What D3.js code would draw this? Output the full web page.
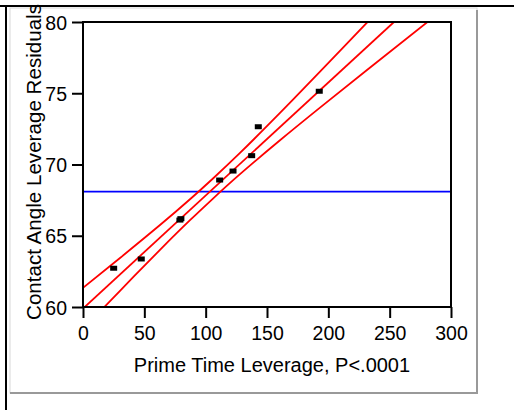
<!DOCTYPE html>
<html>
<head>
<meta charset="utf-8">
<script src="https://cdn.jsdelivr.net/npm/d3@7"></script>
<style>
  html, body { margin: 0; padding: 0; background: #fff; }
  svg { display: block; }
  text { font-family: "Liberation Sans", Arial, Helvetica, sans-serif; fill: #000; }
</style>
</head>
<body>
<svg id="chart" width="514" height="410"></svg>
<script>
// ---- data ----
const xTicks = [0, 50, 100, 150, 200, 250, 300];
const yTicks = [60, 65, 70, 75, 80];
const xLabel = "Prime Time Leverage, P<.0001";
const yLabel = "Contact Angle Leverage Residuals";

// leverage points
const pointX = [25.0, 47.5, 79.0, 79.8, 111.4, 122.3, 137.5, 142.9, 192.6];
const pointY = [62.72, 63.37, 66.1, 66.2, 68.91, 69.54, 70.62, 72.65, 75.14];

// horizontal reference (mean) line
const meanY = 68.1;

// fitted line (two ends)
const fitX = [0, 253.5];
const fitY = [59.89, 80];

// confidence curves
const upperX = [0, 30.16, 62.77, 87.23, 105.98, 127.99, 160.60, 193.21, 231.52, 258.4];
const upperY = [61.34, 63.44, 65.75, 67.56, 69.02, 70.81, 73.62, 76.51, 79.96, 82.39];
const lowerX = [0, 30.16, 62.77, 87.23, 105.98, 127.99, 160.60, 193.21, 231.52, 282.88];
const lowerY = [58.44, 61.14, 64.01, 66.09, 67.61, 69.32, 71.70, 73.99, 76.63, 80.14];

// ---- drawing ----
const svg = d3.select("#chart");
const m = { left: 83, right: 451, top: 22, bottom: 307 };

const x = d3.scaleLinear().domain([0, 300]).range([m.left, m.right]);
const y = d3.scaleLinear().domain([60, 80]).range([m.bottom, m.top]);

// page frame
svg.append("rect").attr("x", 10).attr("y", 8).attr("width", 467).attr("height", 385)
  .attr("fill", "none").attr("stroke", "#d8d8d8").attr("stroke-width", 1);
svg.append("line").attr("x1", 477).attr("x2", 477).attr("y1", 10).attr("y2", 394)
  .attr("stroke", "#999").attr("stroke-width", 2);
svg.append("line").attr("x1", 10).attr("x2", 478).attr("y1", 393).attr("y2", 393)
  .attr("stroke", "#999").attr("stroke-width", 2);
svg.append("line").attr("x1", 0).attr("x2", 514).attr("y1", 6).attr("y2", 6)
  .attr("stroke", "#000").attr("stroke-width", 2);
svg.append("line").attr("x1", 6).attr("x2", 6).attr("y1", 6).attr("y2", 410)
  .attr("stroke", "#000").attr("stroke-width", 2);

// clip to plot area
svg.append("defs").append("clipPath").attr("id", "plotClip")
  .append("rect").attr("x", m.left).attr("y", m.top)
  .attr("width", m.right - m.left).attr("height", m.bottom - m.top);

const plot = svg.append("g").attr("clip-path", "url(#plotClip)");

// mean line
plot.append("line")
  .attr("x1", x(0)).attr("x2", x(300))
  .attr("y1", y(meanY)).attr("y2", y(meanY))
  .attr("stroke", "#0000ff").attr("stroke-width", 1.6);

const line = d3.line().x(d => x(d[0])).y(d => y(d[1])).curve(d3.curveNatural);
const red = "#ff0000";

plot.append("path").datum(fitX.map((v, i) => [v, fitY[i]]))
  .attr("d", d3.line().x(d => x(d[0])).y(d => y(d[1])))
  .attr("fill", "none").attr("stroke", red).attr("stroke-width", 1.8);
plot.append("path").datum(upperX.map((v, i) => [v, upperY[i]]))
  .attr("d", line).attr("fill", "none").attr("stroke", red).attr("stroke-width", 1.8);
plot.append("path").datum(lowerX.map((v, i) => [v, lowerY[i]]))
  .attr("d", line).attr("fill", "none").attr("stroke", red).attr("stroke-width", 1.8);

// points
plot.selectAll("rect.pt").data(pointX.map((v, i) => [v, pointY[i]]))
  .enter().append("rect").attr("class", "pt")
  .attr("x", d => x(d[0]) - 3.5).attr("y", d => y(d[1]) - 2.5)
  .attr("width", 7).attr("height", 5).attr("fill", "#000");

// axes
const yAxis = svg.append("g").attr("transform", `translate(${m.left},0)`)
  .call(d3.axisLeft(y).tickValues(yTicks).tickSize(11).tickPadding(5));
yAxis.select(".domain").remove();
yAxis.selectAll("line").attr("stroke", "#000").attr("stroke-width", 2);
yAxis.selectAll("text").attr("font-size", 19.5).attr("dy", "0.37em")
  .style("font-family", "'Liberation Sans', Arial, sans-serif");

const xAxis = svg.append("g").attr("transform", `translate(0,${m.bottom})`)
  .call(d3.axisBottom(x).tickValues(xTicks).tickSize(11).tickPadding(8));
xAxis.select(".domain").remove();
xAxis.selectAll("line").attr("stroke", "#000").attr("stroke-width", 2);
xAxis.selectAll("text").attr("font-size", 19.5)
  .style("font-family", "'Liberation Sans', Arial, sans-serif");

// plot frame
svg.append("rect").attr("x", m.left).attr("y", m.top)
  .attr("width", m.right - m.left).attr("height", m.bottom - m.top)
  .attr("fill", "none").attr("stroke", "#000").attr("stroke-width", 2);

// axis titles
svg.append("text").attr("x", 272).attr("y", 372).attr("text-anchor", "middle")
  .attr("font-size", 20).text(xLabel);
svg.append("text").attr("transform", "translate(41,162) rotate(-90)")
  .attr("text-anchor", "middle").attr("font-size", 20.6).text(yLabel);
</script>
</body>
</html>
